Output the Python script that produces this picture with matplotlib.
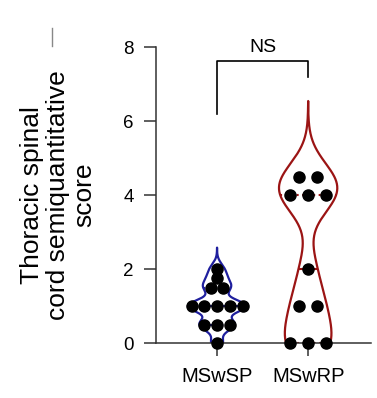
import numpy as np
import matplotlib
matplotlib.use('Agg')
import matplotlib.pyplot as plt
from matplotlib.lines import Line2D

# Datos
grupos = ['MSwSP', 'MSwRP']
mswsp = [0, 0.5, 0.5, 0.5, 1, 1, 1, 1, 1, 1.5, 1.5, 1.75, 2]
mswrp = [0, 0, 0, 1, 1, 2, 4, 4, 4, 4.5, 4.5]
y_ticks = [0, 2, 4, 6, 8]
etiqueta_y = 'Thoracic spinal\ncord semiquantitative\nscore'
texto_sig = 'NS'

# Estilo
colores = ['#1f1f9e', '#9b1414']
anchos_banda = [0.17, 0.6]
separacion = [0.14, 0.195]
media_anchura = 0.32

plt.rcParams['font.family'] = ['Liberation Sans', 'DejaVu Sans']

fig = plt.figure(figsize=(3.77, 3.98), dpi=100)
ax = fig.add_axes([156 / 377, 55 / 398, 215 / 377, 296 / 398])


def densidad(valores, bw, malla):
    v = np.asarray(valores, dtype=float)[:, None]
    return np.exp(-0.5 * ((malla[None, :] - v) / bw) ** 2).sum(axis=0)


for i, (vals, col, bw, sep) in enumerate(zip([mswsp, mswrp], colores, anchos_banda, separacion)):
    vals = np.asarray(vals, dtype=float)
    malla = np.linspace(vals.min() - 3.4 * bw, vals.max() + 3.4 * bw, 400)
    d = densidad(vals, bw, malla)
    w = d / d.max() * media_anchura

    # Contorno del violin
    xs = np.concatenate([i - w, (i + w)[::-1]])
    ys = np.concatenate([malla, malla[::-1]])
    ax.plot(xs, ys, color=col, lw=1.6, zorder=2)

    # Mediana y cuartiles
    q1, med, q3 = np.percentile(vals, [25, 50, 75], method='weibull')
    for q, estilo in [(q1, ':'), (med, '--'), (q3, ':')]:
        wq = np.interp(q, malla, w)
        ax.plot([i - wq, i + wq], [q, q], color=col, lw=1.5, ls=estilo, zorder=2)

    # Puntos individuales
    unicos, cuentas = np.unique(vals, return_counts=True)
    for u, n in zip(unicos, cuentas):
        off = (np.arange(n) - (n - 1) / 2) * sep
        ax.plot(i + off, [u] * n, 'o', color='black', ms=8, zorder=3, clip_on=False)

ax.set_xlim(-0.67, 1.69)
ax.set_ylim(0, 8)
ax.set_yticks(y_ticks)
ax.set_xticks(range(len(grupos)))
ax.set_xticklabels(grupos, fontsize=14.5)
ax.tick_params(axis='y', labelsize=13.5, length=9, width=1.1, pad=7, color='#333333')
ax.tick_params(axis='x', length=9, width=1.1, pad=8, color='#333333')
ax.spines['top'].set_visible(False)
ax.spines['right'].set_visible(False)
for s in ['left', 'bottom']:
    ax.spines[s].set_linewidth(1.1)
    ax.spines[s].set_color('#333333')

# Barra de significancia
ax.plot([0, 0, 1, 1], [6.2, 7.62, 7.62, 7.19], color='black', lw=1.2, clip_on=False)
ax.text(0.5, 7.76, texto_sig, ha='center', va='bottom', fontsize=14)

# Etiqueta del eje y
fig.text(58 / 377, 1 - 195 / 398, etiqueta_y, rotation=90, ha='center', va='center',
         multialignment='center', fontsize=19, linespacing=1.12)

# Pequeña linea gris arriba a la izquierda
fig.add_artist(Line2D([52 / 377, 52 / 377], [1 - 28 / 398, 1 - 46 / 398], color='#888888', lw=1))

fig.savefig('out.png', dpi=100)
